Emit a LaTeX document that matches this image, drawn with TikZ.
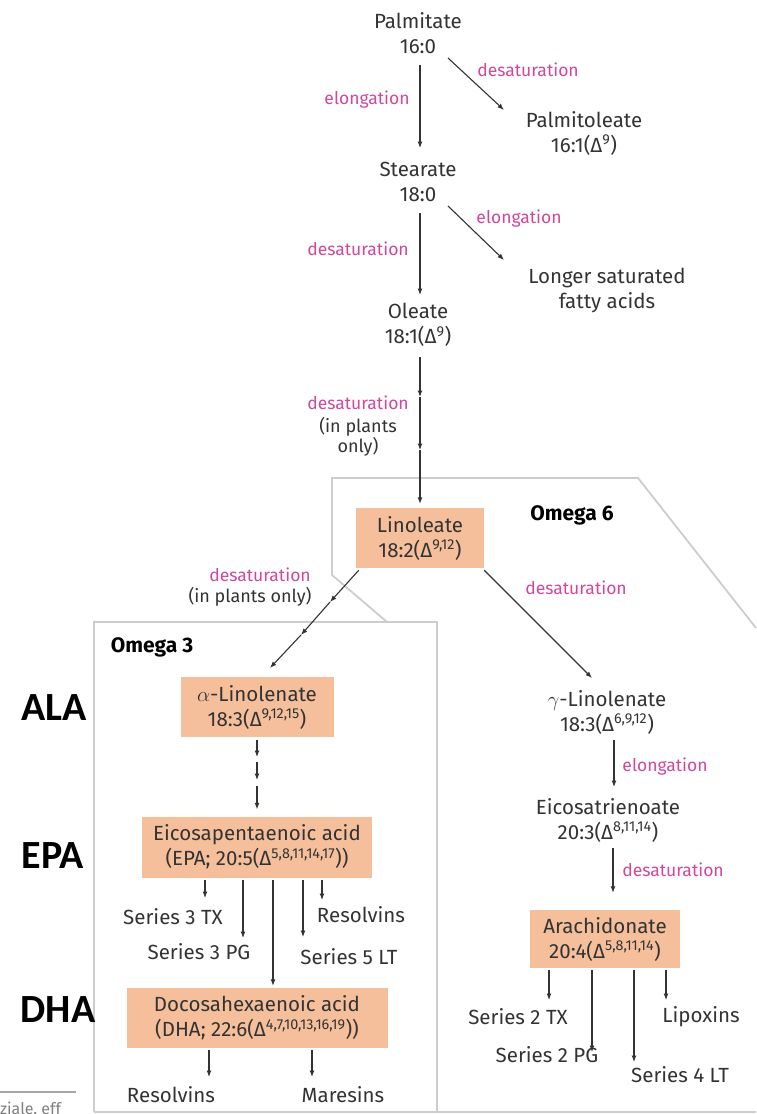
\documentclass[tikz,border=0pt]{standalone}
\usepackage{fontspec}
\setmainfont{Fira Sans}
\newfontfamily\tagfont{Carlito}
\usetikzlibrary{arrows.meta,calc}
\definecolor{peach}{HTML}{F5BF9C}
\definecolor{rose}{HTML}{D2479B}
\definecolor{ink}{HTML}{333333}
\definecolor{frame}{HTML}{CDCDCD}

\begin{document}
\begin{tikzpicture}[x=1pt,y=-1pt,
  every node/.style={font=\fontsize{20.5}{25}\selectfont, text=ink, align=center, inner sep=2pt},
  enzyme/.style={font=\fontsize{17.5}{21}\selectfont, text=rose},
  note/.style={font=\fontsize{18}{20}\selectfont, text=ink},
  acidbox/.style={fill=peach, minimum height=60pt, inner sep=0pt},
  group/.style={font=\bfseries\fontsize{21}{24}\selectfont, text=black},
  tag/.style={font=\tagfont\bfseries\fontsize{40}{44}\selectfont, text=black},
  arr/.style={draw=ink, line width=1.1pt, -{Latex[length=6.5pt,width=5pt]}},
  frameline/.style={draw=frame, line width=1.8pt},
]
\useasboundingbox (0,0) rectangle (756,1114);
\fill[white] (0,0) rectangle (756,1114);

% group frames
\draw[frameline] (387,622) -- (332,575) -- (332,478) -- (638,478) -- (756,628);
\draw[frameline] (94,1112) -- (94,622) -- (437,622) -- (437,1112);
\draw[frameline] (94,1112) -- (756,1112);

% source line, cut at the edge
\begin{scope}
  \clip (0,1080) rectangle (76,1114);
  \draw[draw=gray!70, line width=1.5pt] (0,1092) -- (76,1092);
  \node[anchor=base west, inner sep=0pt, font=\fontsize{16}{18}\selectfont, text=gray] (src) at (0,1114) {ziale, eff};
\end{scope}

% saturated chain
\node (palm) at (418,33) {Palmitate\\16:0};
\node (palmo) at (584,133) {Palmitoleate\\16:1(Δ\textsuperscript{9})};
\node (stear) at (418,182) {Stearate\\18:0};
\node (longer) at (607,290) {Longer saturated\\fatty acids};
\node (oleate) at (418,325) {Oleate\\18:1(Δ\textsuperscript{9})};

% boxed acids
\node[acidbox, minimum width=128pt] (lino) at (420,538) {Linoleate\\18:2(Δ\textsuperscript{9,12})};
\node[acidbox, minimum width=153pt] (ala) at (257,707) {$\alpha$-Linolenate\\18:3(Δ\textsuperscript{9,12,15})};
\node[acidbox, minimum width=230pt, minimum height=61pt] (epa) at (257,847) {Eicosapentaenoic acid\\(EPA; 20:5(Δ\textsuperscript{5,8,11,14,17}))};
\node[acidbox, minimum width=261pt] (dha) at (257,1018) {Docosahexaenoic acid\\(DHA; 22:6(Δ\textsuperscript{4,7,10,13,16,19}))};
\node[acidbox, minimum width=150pt, minimum height=58pt] (arach) at (605,939) {Arachidonate\\20:4(Δ\textsuperscript{5,8,11,14})};

% omega-6 branch
\node (glin) at (607,712) {$\gamma$-Linolenate\\18:3(Δ\textsuperscript{6,9,12})};
\node (eico) at (608,820) {Eicosatrienoate\\20:3(Δ\textsuperscript{8,11,14})};

% group titles
\node[group] (om6) at (572,515) {Omega 6};
\node[group] (om3) at (152,647) {Omega 3};

% side tags
\node[tag] (tagala) at (54,708) {ALA};
\node[tag] (tagepa) at (53,856) {EPA};
\node[tag] (tagdha) at (58,1010) {DHA};

% products
\node (tx3) at (173,917) {Series 3 TX};
\node (pg3) at (199,952) {Series 3 PG};
\node (lt5) at (349,957) {Series 5 LT};
\node (rv5) at (361,915) {Resolvins};
\node (rvd) at (171,1095) {Resolvins};
\node (mar) at (343,1095) {Maresins};
\node (tx2) at (518,1017) {Series 2 TX};
\node (pg2) at (547,1055) {Series 2 PG};
\node (lt4) at (680,1075) {Series 4 LT};
\node (lpx) at (701,1017) {Lipoxins};

% enzyme labels
\node[enzyme] (e1) at (367,100) {elongation};
\node[enzyme] (e2) at (528,70) {desaturation};
\node[enzyme] (e3) at (358,249) {desaturation};
\node[enzyme] (e4) at (519,219) {elongation};
\node[enzyme] (e5) at (358,403) {desaturation};
\node[note] (n5) at (358,437) {(in plants\\only)};
\node[enzyme] (e6) at (260,575) {desaturation};
\node[note] (n6) at (250,597) {(in plants only)};
\node[enzyme] (e7) at (576,588) {desaturation};
\node[enzyme] (e8) at (665,767) {elongation};
\node[enzyme] (e9) at (673,870) {desaturation};

% saturated steps
\draw[arr] ($(palm)+(2,32)$) -- ($(stear)+(2,-34)$);
\draw[arr] ($(palm)+(30,25)$) -- ($(palmo)+(-80,-23)$);
\draw[arr] ($(stear)+(2,31)$) -- ($(oleate)+(2,-30)$);
\draw[arr] ($(stear)+(30,24)$) -- ($(longer)+(-103,-30)$);

% oleate to linoleate, several steps
\coordinate (k1) at (420,397);
\coordinate (k2) at (420,450);
\draw[arr] ($(oleate)+(2,32)$) -- (k1);
\draw[arr] (k1) -- (k2);
\draw[arr] (k2) -- ($(lino.north)+(0,-4)$);

% linoleate to alpha-linolenate, several steps
\coordinate (k3) at (330,602);
\coordinate (k4) at (301,635);
\draw[arr] ($(lino.south west)+(3,2)$) -- (k3);
\draw[arr] (k3) -- (k4);
\draw[arr] (k4) -- ($(ala)+(13,-39)$);

% linoleate to gamma-linolenate
\draw[arr] ($(lino.south east)+(0,2)$) -- ($(glin)+(-15,-34)$);

% alpha-linolenate to EPA
\coordinate (m1) at (257,757);
\coordinate (m2) at (257,762);
\coordinate (m3) at (257,780);
\coordinate (m4) at (257,786);
\draw[arr] ($(ala.south)+(0,3)$) -- (m1);
\draw[arr] (m2) -- (m3);
\draw[arr] (m4) -- ($(epa.north)+(0,-7)$);

% EPA products
\draw[arr] ($(epa.south)+(-52,2)$) -- ($(tx3)+(32,-19)$);
\draw[arr] ($(epa.south)+(-14,2)$) -- ($(pg3)+(44,-14)$);
\draw[arr] ($(epa.south)+(16,2)$) -- ($(dha.north)+(16,-2)$);
\draw[arr] ($(epa.south)+(46,2)$) -- ($(lt5)+(-46,-20)$);
\draw[arr] ($(epa.south)+(65,2)$) -- ($(rv5)+(-39,-15)$);

% DHA products
\draw[arr] ($(dha.south)+(-48,2)$) -- ($(rvd)+(38,-18)$);
\draw[arr] ($(dha.south)+(55,2)$) -- ($(mar)+(-31,-18)$);

% omega-6 steps
\draw[arr] ($(glin)+(7,28)$) -- ($(eico)+(6,-33)$);
\draw[arr] ($(eico)+(5,28)$) -- ($(arach.north)+(8,-17)$);

% arachidonate products
\draw[arr] ($(arach.south)+(-56,2)$) -- ($(tx2)+(31,-17)$);
\draw[arr] ($(arach.south)+(-13,2)$) -- ($(pg2)+(45,-3)$);
\draw[arr] ($(arach.south)+(29,2)$) -- ($(lt4)+(-46,-13)$);
\draw[arr] ($(arach.south)+(61,2)$) -- ($(lpx)+(-35,-17)$);
\end{tikzpicture}
\end{document}
